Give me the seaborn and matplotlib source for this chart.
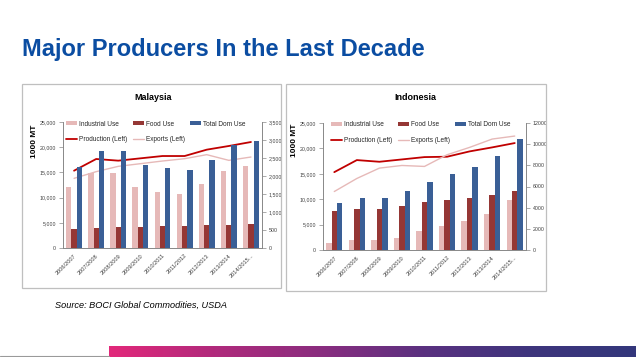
import numpy as np
import pandas as pd
import matplotlib
matplotlib.use("Agg")
import matplotlib.pyplot as plt
import seaborn as sns
from matplotlib.patches import Rectangle, Patch
from matplotlib.lines import Line2D
from matplotlib.colors import LinearSegmentedColormap
from matplotlib.ticker import FuncFormatter, MultipleLocator, FixedLocator

# ---------------- data ----------------
years = ["2006/2007", "2007/2008", "2008/2009", "2009/2010", "2010/2011",
         "2011/2012", "2012/2013", "2013/2014", "2014/2015..."]

# Malaysia (bars on right axis, lines on left axis; 1000 MT)
my_industrial = [1700, 2080, 2070, 1690, 1560, 1500, 1780, 2150, 2280]
my_food = [530, 555, 580, 585, 610, 620, 640, 650, 665]
my_total = [2260, 2700, 2690, 2310, 2220, 2170, 2450, 2860, 2980]
my_production = [15340, 17660, 17330, 17790, 18250, 18250, 19510, 20240, 21030]
my_exports = [13820, 15150, 16200, 16730, 17260, 17720, 18520, 17390, 18050]

# Indonesia
id_industrial = [660, 950, 950, 1170, 1800, 2280, 2750, 3410, 4700]
id_food = [3730, 3880, 3880, 4200, 4520, 4700, 4900, 5180, 5530]
id_total = [4480, 4930, 4930, 5530, 6440, 7140, 7860, 8840, 10520]
id_production = [15330, 17700, 17370, 17830, 18290, 18360, 19410, 20200, 21050]
id_exports = [11510, 14080, 16120, 16640, 16450, 18750, 20200, 21840, 22430]

series_names = ["Industrial Use", "Food Use", "Total Dom Use"]
bar_colors = ["#E6B9B8", "#953735", "#3A5F96"]
prod_color = "#C00000"
exp_color = "#E6B9B8"

# ---------------- style ----------------
sns.set_theme(style="white")
plt.rcParams["font.family"] = ["Liberation Sans", "DejaVu Sans"]

W, H = 636, 357
fig = plt.figure(figsize=(W / 100, H / 100), dpi=100)


def fx(px):
    return px / W


def fy(py):
    return 1 - py / H


def panel(box, axbox, title, title_xy, ylab_xy, legend_xy,
          ind, food, total, prod, exp, rmax, rstep, rcomma):
    bx0, by0, bx1, by1 = box
    fig.patches.append(Rectangle((fx(bx0), fy(by1)), fx(bx1) - fx(bx0), fy(by0) - fy(by1),
                                 transform=fig.transFigure, fill=False,
                                 edgecolor="#BFBFBF", lw=0.9))
    l, t, r, b = axbox
    ax = fig.add_axes([fx(l), fy(b), fx(r) - fx(l), fy(t) - fy(b)])
    ax2 = ax.twinx()

    df = pd.DataFrame({
        "year": years * 3,
        "value": list(ind) + list(food) + list(total),
        "series": [n for n in series_names for _ in years],
    })
    sns.barplot(data=df, x="year", y="value", hue="series", order=years,
                hue_order=series_names, palette=bar_colors, saturation=1,
                width=0.72, legend=False, ax=ax2, linewidth=0, edgecolor="none")
    xs = np.arange(len(years))
    sns.lineplot(x=xs, y=prod, ax=ax, color=prod_color, lw=1.3)
    sns.lineplot(x=xs, y=exp, ax=ax, color=exp_color, lw=1.0)

    ax.set_xlim(-0.5, len(years) - 0.5)
    ax.set_ylim(0, 25000)
    ax.yaxis.set_major_locator(MultipleLocator(5000))
    ax.yaxis.set_major_formatter(FuncFormatter(lambda v, p: f"{int(v):,}"))
    ax2.set_ylim(0, rmax)
    ax2.yaxis.set_major_locator(MultipleLocator(rstep))
    if rcomma:
        ax2.yaxis.set_major_formatter(FuncFormatter(lambda v, p: f"{int(v):,}"))
    else:
        ax2.yaxis.set_major_formatter(FuncFormatter(lambda v, p: f"{int(v)}"))
    ax.set_xlabel("")
    ax.set_ylabel("")
    ax2.set_xlabel("")
    ax2.set_ylabel("")

    ax.xaxis.set_major_locator(FixedLocator(list(xs)))
    ax.set_xticklabels(years, rotation=45, ha="right", rotation_mode="anchor",
                       fontsize=4.1, color="#404040")
    ax.xaxis.set_minor_locator(FixedLocator(list(np.arange(len(years) + 1) - 0.5)))
    ax.tick_params(axis="x", which="major", length=0, pad=3.5)
    ax.tick_params(axis="x", which="minor", length=3, width=0.5, color="#888888", direction="out")
    ax.tick_params(axis="y", length=3, width=0.5, color="#888888", labelsize=3.8,
                   labelcolor="#404040", pad=2, direction="out", left=True)
    ax2.tick_params(axis="y", length=3, width=0.5, color="#888888", labelsize=3.8,
                    labelcolor="#404040", pad=2, direction="out", right=True)

    for a in (ax, ax2):
        for s in a.spines.values():
            s.set_color("#888888")
            s.set_linewidth(0.6)
        a.spines["top"].set_visible(False)
        a.grid(False)
    ax.patch.set_visible(False)

    fig.text(fx(title_xy[0]), fy(title_xy[1]), title, ha="center", va="center",
             fontsize=6.5, fontweight="bold", color="#000000")
    fig.text(fx(ylab_xy[0]), fy(ylab_xy[1]), "1000 MT", ha="center", va="center",
             rotation=90, fontsize=6.0, fontweight="bold", color="#000000")

    handles = [
        Patch(facecolor=bar_colors[0], edgecolor="none", label="Industrial Use"),
        Line2D([], [], color=prod_color, lw=1.3, label="Production (Left)"),
        Patch(facecolor=bar_colors[1], edgecolor="none", label="Food Use"),
        Line2D([], [], color=exp_color, lw=1.0, label="Exports (Left)"),
        Patch(facecolor=bar_colors[2], edgecolor="none", label="Total Dom Use"),
    ]
    ax2.legend(handles=handles, ncol=3, loc="upper left",
               bbox_to_anchor=(fx(legend_xy[0]), fy(legend_xy[1])),
               bbox_transform=fig.transFigure, frameon=False, fontsize=4.7,
               borderpad=0, borderaxespad=0, handlelength=1.75, handleheight=0.6,
               handletextpad=0.25, columnspacing=0.8, labelspacing=1.35)
    return ax, ax2


panel((22, 84, 281, 288), (63, 122, 262, 248), "Malaysia", (153, 97), (34.5, 141),
      (66, 120.5), my_industrial, my_food, my_total, my_production, my_exports,
      3500, 500, True)
panel((286, 84, 546, 291), (323, 123, 526, 250), "Indonesia", (415, 97), (295, 140),
      (331, 121.5), id_industrial, id_food, id_total, id_production, id_exports,
      12000, 2000, False)

# page title and source
fig.text(fx(22), fy(56), "Major Producers In the Last Decade", ha="left", va="baseline",
         fontsize=17, fontweight="bold", color="#0B4DA2")
fig.text(fx(55), fy(305), "Source: BOCI Global Commodities, USDA", ha="left", va="center",
         fontsize=6.6, fontstyle="italic", color="#000000")

# bottom gradient bar
gax = fig.add_axes([fx(109), 0, 1 - fx(109), 11 / H])
cmap = LinearSegmentedColormap.from_list(
    "band", ["#E2287A", "#B02A7C", "#8A2D7F", "#5A3180", "#3E357D", "#33377B"])
gax.imshow(np.linspace(0, 1, 256)[None, :], aspect="auto", cmap=cmap,
           extent=[0, 1, 0, 1])
gax.set_axis_off()
fig.add_artist(Line2D([0, fx(109)], [fy(356), fy(356)], transform=fig.transFigure,
                      color="#9A9A9A", lw=0.8))

fig.savefig("out.png", dpi=100)
